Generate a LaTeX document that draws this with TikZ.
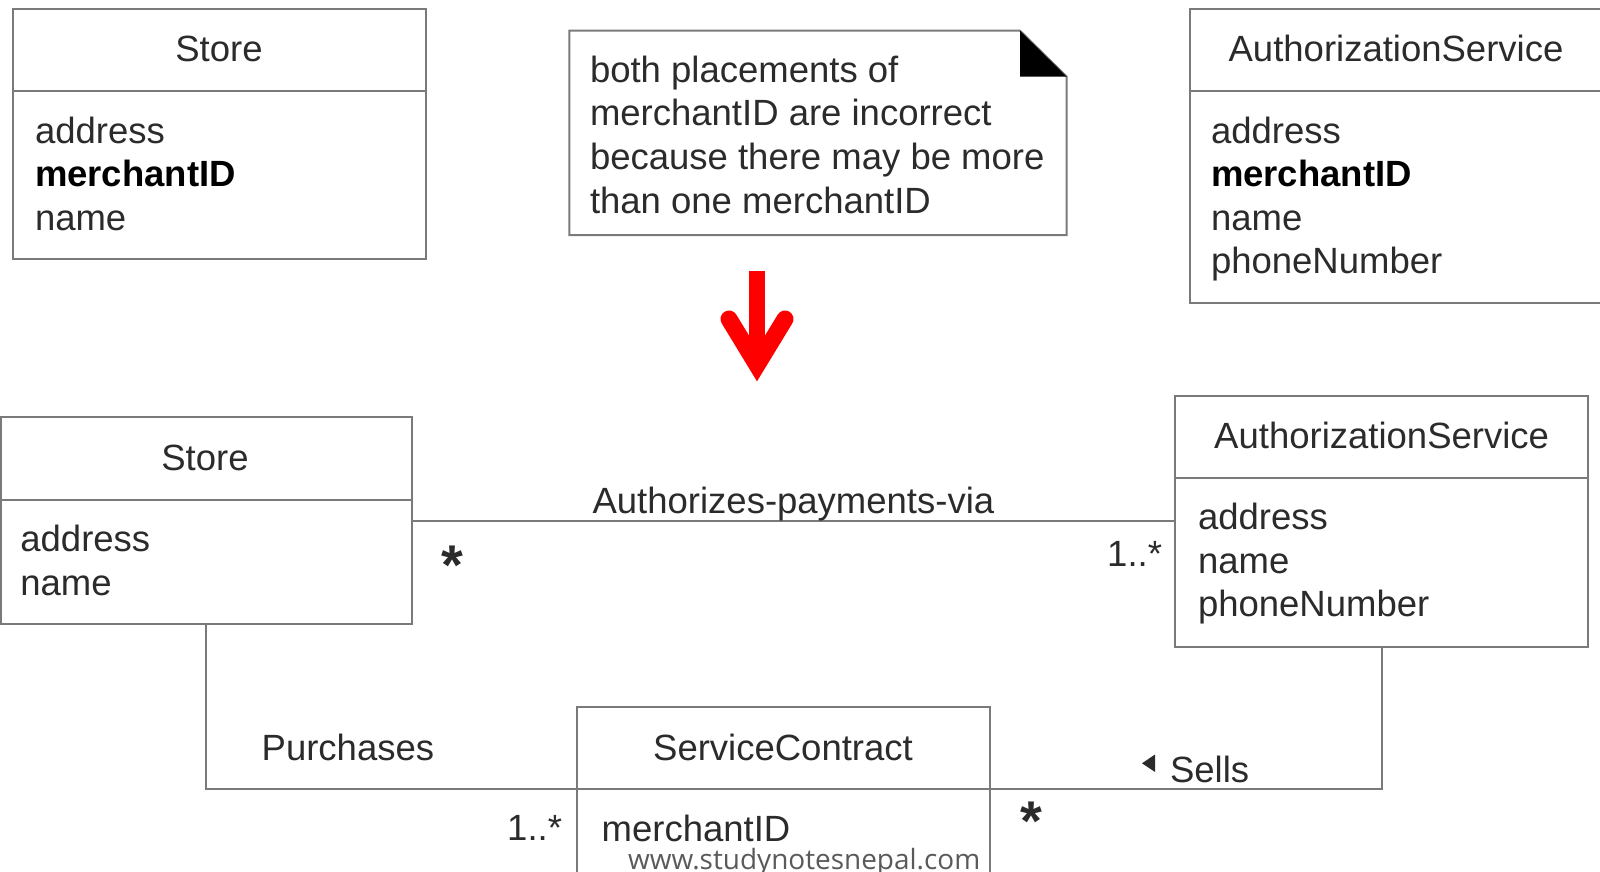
\documentclass[tikz,border=0pt]{standalone}
\usepackage{fontspec}
\setmainfont{Liberation Sans}
\newfontfamily\wmfont{Open Sans}
\definecolor{ink}{HTML}{2B2B2B}
\definecolor{rule}{HTML}{7A7A7A}
\definecolor{wmgray}{HTML}{5A5A5A}
\definecolor{arrowred}{HTML}{FF0000}

\begin{document}
\begin{tikzpicture}[x=1pt,y=-1pt,
  classbox/.style={draw=rule, line width=2pt, fill=white, anchor=north west,
                   inner sep=0pt, outer sep=0pt},
  divider/.style={draw=rule, line width=2pt},
  assoc/.style={draw=rule, line width=2pt},
  txt/.style={inner sep=0pt, outer sep=0pt, text=ink,
              font=\fontsize{36.5}{43.5}\selectfont},
  title/.style={txt, anchor=base},
  attr/.style={txt, anchor=base west},
  bigstar/.style={txt, anchor=base, font=\fontsize{56}{56}\selectfont\bfseries},
]
\useasboundingbox (0,0) rectangle (1600,872);
\clip (0,0) rectangle (1600,872);
\fill[white] (0,0) rectangle (1600,872);

% ---------- upper row: first attempt ----------
\node[classbox, minimum width=413pt, minimum height=250pt] (storeA) at (12.7,9.3) {};
\draw[divider] (12.7,90.7) -- (425.7,90.7);
\node[title] (storeAname) at (219,62) {Store};
\node[attr] (storeA1) at (35,143.3) {address};
\node[attr, text=black] (storeA2) at (35,186.8) {\bfseries merchantID};
\node[attr] (storeA3) at (35,230.3) {name};

\node[classbox, minimum width=420pt, minimum height=294.3pt] (authA) at (1190,9) {};
\draw[divider] (1190,90.7) -- (1610,90.7);
\node[title] (authAname) at (1396,62) {AuthorizationService};
\node[attr] (authA1) at (1211,143.3) {address};
\node[attr, text=black] (authA2) at (1211,186.8) {\bfseries merchantID};
\node[attr] (authA3) at (1211,230.3) {name};
\node[attr] (authA4) at (1211,273.8) {phoneNumber};

% note with folded corner
\draw[rule, line width=2pt, fill=white]
  (569.3,30.7) -- (1020,30.7) -- (1066.7,76.7) -- (1066.7,235) -- (569.3,235) -- cycle;
\fill[black] (1020,30.7) -- (1020,76.7) -- (1066.7,76.7) -- cycle;
\node[attr] (note1) at (590,82.5) {both placements of};
\node[attr] (note2) at (590,126) {merchantID are incorrect};
\node[attr] (note3) at (590,169.5) {because there may be more};
\node[attr] (note4) at (590,213) {than one merchantID};

% red arrow
\fill[arrowred] (749.3,271) rectangle (765,362);
\draw[arrowred, line width=17pt, line cap=round, line join=miter]
  (729,319) -- (757,365) -- (785,319);

% ---------- lower row: corrected model ----------
\node[classbox, minimum width=410.7pt, minimum height=207pt] (storeB) at (1,417) {};
\draw[divider] (1,500) -- (411.7,500);
\node[title] (storeBname) at (205,470.5) {Store};
\node[attr] (storeB1) at (20.4,551.5) {address};
\node[attr] (storeB2) at (20.4,595) {name};

\node[classbox, minimum width=413.3pt, minimum height=250.7pt] (authB) at (1175,396) {};
\draw[divider] (1175,478.3) -- (1588.3,478.3);
\node[title] (authBname) at (1381.6,448.5) {AuthorizationService};
\node[attr] (authB1) at (1198,529.5) {address};
\node[attr] (authB2) at (1198,573) {name};
\node[attr] (authB3) at (1198,616.5) {phoneNumber};

\node[classbox, minimum width=413.3pt, minimum height=200pt] (sc) at (576.7,706.7) {};
\coordinate (scW) at (576.7,789);
\coordinate (scE) at (990,789);
\draw[divider] (scW) -- (scE);
\node[title] (scname) at (783,760) {ServiceContract};
\node[attr] (sc1) at (601.7,841) {merchantID};

% associations
\draw[assoc] (storeB.east) -- (storeB.east -| authB.west);
\draw[assoc] (storeB.south) |- (scW);
\draw[assoc] (authB.south) |- (scE);

% association labels and multiplicities
\node[title] (lblAuth) at (793.4,513) {Authorizes-payments-via};
\node[bigstar] (mStore) at (452.5,584.5) {*};
\node[txt, anchor=base east] (mAuth) at (1162,566.7) {1..*};
\node[attr] (lblPurch) at (261.7,760) {Purchases};
\node[txt, anchor=base east] (mSC) at (562,840) {1..*};
\node[bigstar] (mSells) at (1031,840.5) {*};
\fill[ink] (1155,754.5) -- (1155,772) -- (1142,763.3) -- cycle;
\node[attr] (lblSells) at (1170,782.5) {Sells};

% site mark
\node[anchor=base west, inner sep=0pt, text=wmgray] (site) at (628,869)
  {\resizebox{352pt}{!}{\wmfont www.studynotesnepal.com}};
\end{tikzpicture}
\end{document}
